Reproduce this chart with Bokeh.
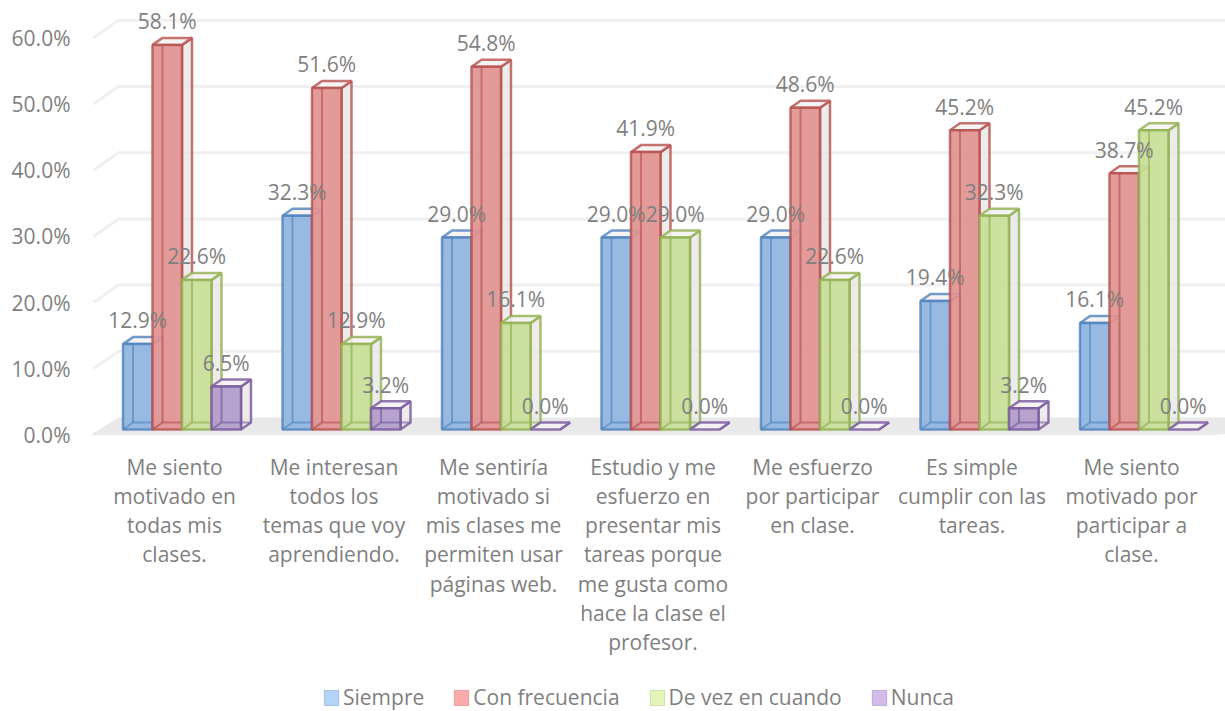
from bokeh.plotting import figure
from bokeh.embed import file_html
from bokeh.resources import INLINE
from bokeh.models import FixedTicker, Legend, LegendItem, Range1d
from bokeh.core.properties import value

categories = [
    "Me siento\nmotivado en\ntodas mis\nclases.",
    "Me interesan\ntodos los\ntemas que voy\naprendiendo.",
    "Me sentiría\nmotivado si\nmis clases me\npermiten usar\npáginas web.",
    "Estudio y me\nesfuerzo en\npresentar mis\ntareas porque\nme gusta como\nhace la clase el\nprofesor.",
    "Me esfuerzo\npor participar\nen clase.",
    "Es simple\ncumplir con las\ntareas.",
    "Me siento\nmotivado por\nparticipar a\nclase.",
]
series_names = ["Siempre", "Con frecuencia", "De vez en cuando", "Nunca"]
siempre = [12.9, 32.3, 29.0, 29.0, 29.0, 19.4, 16.1]
con_frecuencia = [58.1, 51.6, 54.8, 41.9, 48.6, 45.2, 38.7]
de_vez = [22.6, 12.9, 16.1, 29.0, 22.6, 32.3, 45.2]
nunca = [6.5, 3.2, 0.0, 0.0, 0.0, 3.2, 0.0]
series_values = [siempre, con_frecuencia, de_vez, nunca]
y_ticks = [0, 10, 20, 30, 40, 50, 60]

face = ["#8fb4df", "#df9290", "#c8dd98", "#b09ccb"]
edge = ["#4f81bd", "#b5504d", "#90b050", "#75589c"]
swatch = ["#b3d3f7", "#fbacaa", "#e3f5b8", "#d2bdea"]
TEXT = "#7f7f7f"
FONT = "Open Sans"

W, H = 1225, 711
ML = 90
FW, FH = W - ML, H
PX_CAT = 159.5
PX_PCT = 6.62
# x data unit = one category; y data unit = one percent
dx = 1 / PX_CAT
dy = 1 / PX_PCT
x0 = -(174 - 90) * dx
y0 = -(711 - 434.5) * dy

p = figure(width=W, height=H, output_backend="svg", toolbar_location=None,
           x_range=Range1d(x0, x0 + FW * dx), y_range=Range1d(y0, y0 + FH * dy),
           min_border_left=ML, min_border_right=0, min_border_top=0, min_border_bottom=0,
           outline_line_color=None, background_fill_color="white", border_fill_color="white")
p.grid.visible = False

# axes
ax = p.yaxis[0]
ax.ticker = FixedTicker(ticks=y_ticks)
ax.major_label_overrides = {t: f"{t:.1f}%" for t in y_ticks}
ax.major_label_text_font = FONT
ax.major_label_text_font_size = "21px"
ax.major_label_text_color = TEXT
ax.major_label_standoff = 14
ax.axis_line_color = None
ax.major_tick_line_color = None
ax.minor_tick_line_color = None

bx = p.xaxis[0]
bx.fixed_location = -(445 - 434.5) * dy
bx.ticker = FixedTicker(ticks=list(range(len(categories))))
bx.major_label_overrides = {i: c for i, c in enumerate(categories)}
bx.major_label_text_font = FONT
bx.major_label_text_font_size = "21px"
bx.major_label_text_color = TEXT
bx.major_label_text_line_height = 1.045
bx.major_label_standoff = 1
bx.axis_line_color = None
bx.major_tick_line_color = None
bx.minor_tick_line_color = None

# floor and back wall
back_x, back_y = 28 * dx, 17.5 * dy
left = -(174 - 90) * dx
band_r = len(categories) - 0.5
right_far = x0 + FW * dx + 1
p.patches(xs=[[left, left + back_x, right_far, band_r + 0.02]], ys=[[0, back_y, back_y, 0]],
          fill_color="#e9e9e9", line_color=None)
p.multi_line(xs=[[left + 3 * dx, left + back_x, right_far] for t in y_ticks[1:]],
             ys=[[t, t + back_y, t + back_y] for t in y_ticks[1:]],
             line_color="#f0f0f0", line_width=3)

# 3D bars
BW = 29.5 * dx
BASE = 5.5 * dy
DX, DY = 10 * dx, 7 * dy
start = (122.5 - 174) * dx
LW = 2.5
LA = 0.8
for s, vals in enumerate(series_values):
    xl = [i + start + s * BW for i in range(len(vals))]
    xr = [x + BW for x in xl]
    top = [v + BASE for v in vals]
    p.patches(xs=[[r, r + DX, r + DX, r] for r in xr],
              ys=[[BASE, BASE + DY, t + DY, t] for t in top],
              fill_color="#e8e4e4", fill_alpha=0.75, line_color=edge[s], line_width=LW, line_alpha=LA)
    p.patches(xs=[[l, l + DX, r + DX, r] for l, r in zip(xl, xr)],
              ys=[[t, t + DY, t + DY, t] for t in top],
              fill_color="#f4f2f2", fill_alpha=0.9, line_color=edge[s], line_width=LW, line_alpha=LA)
    nz = [i for i, v in enumerate(vals) if v > 0]
    p.patches(xs=[[xl[i], xr[i], xr[i], xl[i]] for i in nz],
              ys=[[BASE, BASE, top[i], top[i]] for i in nz],
              fill_color=face[s], fill_alpha=0.92, line_color=edge[s], line_width=LW, line_alpha=LA)
    # hidden edges showing through the translucent front face
    p.multi_line(xs=[[xl[i] + DX, xl[i] + DX] for i in nz],
                 ys=[[BASE + DY, top[i]] for i in nz],
                 line_color=edge[s], line_width=2, line_alpha=0.6)
    p.multi_line(xs=[[xl[i], xl[i] + DX, xr[i] + DX] for i in nz],
                 ys=[[BASE, BASE + DY, BASE + DY] for i in nz],
                 line_color=edge[s], line_width=2, line_alpha=0.6)

# value labels
LABEL_UP = 23.7 * dy
for s, vals in enumerate(series_values):
    p.text(x=[i + start + (s + 0.5) * BW for i in range(len(vals))],
           y=[v + BASE + LABEL_UP for v in vals],
           text=[f"{v:.1f}%" for v in vals],
           text_font=value(FONT), text_font_size="21px", text_color=TEXT,
           text_align="center", text_baseline="middle")

# legend
items = []
for s, name in enumerate(series_names):
    r = p.quad(left=[float("nan")], right=[float("nan")], bottom=[float("nan")], top=[float("nan")],
               fill_color=swatch[s], line_color=edge[s], line_alpha=0.35, line_width=1)
    items.append(LegendItem(label=name, renderers=[r]))
legend = Legend(items=items, orientation="horizontal", location=(232, 0),
                glyph_width=18, glyph_height=19, label_standoff=3, spacing=28,
                padding=0, margin=0, border_line_color=None, background_fill_alpha=0,
                label_text_font=FONT, label_text_font_size="21px",
                label_text_color=TEXT, label_height=16)
p.add_layout(legend, "center")

open("out.html", "w").write(file_html(p, INLINE))
